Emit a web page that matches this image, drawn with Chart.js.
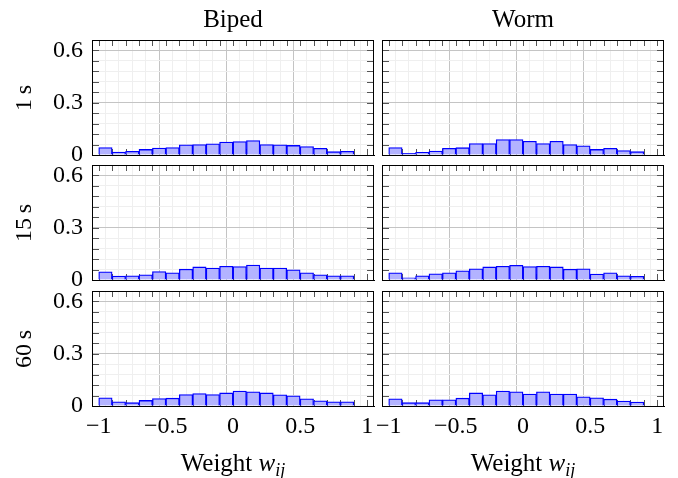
<!DOCTYPE html>
<html>
<head>
<meta charset="utf-8">
<script src="https://cdn.jsdelivr.net/npm/chart.js@4.4.1/dist/chart.umd.min.js"></script>
<style>
  html, body { margin: 0; padding: 0; background: #fff; }
  #wrap { position: relative; width: 678px; height: 478px; overflow: hidden; font-family: 'Liberation Serif', serif; color: #000; }
  #wrap canvas { position: absolute; }
  .lbl { position: absolute; font-size: 25px; line-height: 24px; white-space: nowrap; }
  .rot { transform: translate(-50%, -50%) rotate(-90deg); font-size: 24px; }
  .ctr { transform: translateX(-50%); }
  sub { font-size: 18px; vertical-align: -5px; line-height: 0; }
</style>
</head>
<body>
<div id="wrap"></div>
<script>
// bins of width 0.1 from -1 to 0.9, given by their centres
const binCenters = [-0.95, -0.85, -0.75, -0.65, -0.55, -0.45, -0.35, -0.25, -0.15, -0.05,
                    0.05, 0.15, 0.25, 0.35, 0.45, 0.55, 0.65, 0.75, 0.85];

const columns = ['Biped', 'Worm'];
const rows = ['1\u2009s', '15\u2009s', '60\u2009s'];

const biped1s  = [0.043, 0.017, 0.021, 0.032, 0.040, 0.043, 0.058, 0.060, 0.064, 0.074,
                  0.077, 0.083, 0.060, 0.058, 0.055, 0.049, 0.038, 0.019, 0.021];
const worm1s   = [0.043, 0.009, 0.015, 0.023, 0.038, 0.042, 0.066, 0.066, 0.089, 0.089,
                  0.079, 0.066, 0.079, 0.060, 0.053, 0.032, 0.038, 0.026, 0.019];
const biped15s = [0.047, 0.023, 0.024, 0.030, 0.049, 0.041, 0.062, 0.075, 0.069, 0.079,
                  0.077, 0.086, 0.069, 0.069, 0.058, 0.041, 0.030, 0.024, 0.024];
const worm15s  = [0.041, 0.013, 0.024, 0.036, 0.041, 0.053, 0.064, 0.075, 0.079, 0.084,
                  0.077, 0.079, 0.075, 0.062, 0.064, 0.034, 0.041, 0.024, 0.021];
const biped60s = [0.047, 0.024, 0.019, 0.032, 0.043, 0.045, 0.066, 0.071, 0.066, 0.075,
                  0.086, 0.081, 0.075, 0.064, 0.058, 0.041, 0.030, 0.024, 0.024];
const worm60s  = [0.041, 0.019, 0.019, 0.036, 0.036, 0.045, 0.075, 0.064, 0.086, 0.081,
                  0.069, 0.081, 0.069, 0.069, 0.053, 0.047, 0.039, 0.028, 0.023];

const xTickValues = [-1, -0.5, 0, 0.5, 1];
const xTickLabels = ['\u22121', '\u22120.5', '0', '0.5', '1'];
const yTickValues = [0, 0.3, 0.6];
const yTickLabels = ['0', '0.3', '0.6'];

const panelData = [
    [biped1s, worm1s],
    [biped15s, worm15s],
    [biped60s, worm60s]
];

Chart.defaults.font.family = "'Liberation Serif', 'Times New Roman', serif";
Chart.defaults.font.size = 24;
Chart.defaults.color = '#000';

const near = (a, b) => Math.abs(a - b) < 1e-6;
const labelFor = (v, values, labels) => {
    const i = values.findIndex(t => near(t, v));
    return i >= 0 ? labels[i] : '';
};

// layout of the 3x2 grid (plot areas)
const colLeft = [92, 382];
const plotW = 282;
const rowTop = [40, 165, 291];
const plotH = 115;

const framePlugin = {
    id: 'frame',
    beforeDatasetsDraw(chart) {
        const { ctx, chartArea: a, scales: { x, y } } = chart;
        ctx.save();
        ctx.strokeStyle = '#555';
        ctx.lineWidth = 1;
        ctx.beginPath();
        x.ticks.forEach(t => {
            const px = Math.round(x.getPixelForValue(t.value)) + 0.5;
            ctx.moveTo(px, a.top);
            ctx.lineTo(px, a.top + 6);
            ctx.moveTo(px, a.bottom);
            ctx.lineTo(px, a.bottom - 6);
        });
        y.ticks.forEach(t => {
            const py = Math.round(y.getPixelForValue(t.value)) + 0.5;
            ctx.moveTo(a.left, py);
            ctx.lineTo(a.left + 7, py);
            ctx.moveTo(a.right, py);
            ctx.lineTo(a.right - 7, py);
        });
        ctx.stroke();
        ctx.restore();
    },
    afterDatasetsDraw(chart) {
        const { ctx, chartArea: a } = chart;
        ctx.save();
        ctx.strokeStyle = '#000';
        ctx.lineWidth = 1;
        ctx.strokeRect(Math.round(a.left) + 0.5, Math.round(a.top) + 0.5,
                       Math.round(a.right - a.left) - 1, Math.round(a.bottom - a.top));
        ctx.restore();
    }
};

function gridColor(ctx, majors) {
    const v = ctx.tick ? ctx.tick.value : 0;
    return majors.some(m => near(m, v)) ? '#c4c4c4' : '#efefef';
}

function makePanel(row, col) {
    const isLeft = col === 0;
    const isBottom = row === rows.length - 1;
    const padTop = 20;
    const padBottom = isBottom ? 4 : 14;
    const xHeight = isBottom ? 36 : 0;
    const yWidth = isLeft ? 92 : 42;
    const canvasLeft = colLeft[col] - yWidth;
    const padRight = isLeft ? 18 : 14;
    const w = yWidth + plotW + padRight;
    const h = padTop + plotH + xHeight + padBottom;

    const canvas = document.createElement('canvas');
    canvas.width = w;
    canvas.height = h;
    canvas.style.left = canvasLeft + 'px';
    canvas.style.top = (rowTop[row] - padTop) + 'px';
    document.getElementById('wrap').appendChild(canvas);

    const values = panelData[row][col];

    new Chart(canvas.getContext('2d'), {
        type: 'bar',
        data: {
            datasets: [{
                data: values.map((v, i) => ({ x: binCenters[i], y: v })),
                backgroundColor: '#b3b3ff',
                borderColor: '#0000ff',
                borderWidth: 1.3,
                barPercentage: 1,
                categoryPercentage: 1
            }]
        },
        options: {
            responsive: false,
            animation: false,
            layout: { padding: { top: padTop, right: padRight, bottom: padBottom, left: 0 } },
            plugins: {
                legend: { display: false },
                tooltip: { enabled: false }
            },
            scales: {
                x: {
                    type: 'linear',
                    min: -1,
                    max: 1,
                    afterFit: s => { s.height = xHeight; s.paddingLeft = 0; s.paddingRight = 0; },
                    border: { display: true, color: '#000' },
                    grid: {
                        drawTicks: false,
                        color: ctx => gridColor(ctx, [-0.5, 0, 0.5])
                    },
                    ticks: {
                        display: isBottom,
                        stepSize: 0.1,
                        autoSkip: false,
                        maxRotation: 0,
                        padding: 6,
                        callback: v => labelFor(v, xTickValues, xTickLabels)
                    }
                },
                y: {
                    min: 0,
                    max: 0.66,
                    afterFit: s => { s.width = yWidth; s.paddingTop = 0; s.paddingBottom = 0; },
                    border: { display: true, color: '#000' },
                    grid: {
                        drawTicks: false,
                        color: ctx => gridColor(ctx, [0.3, 0.6])
                    },
                    ticks: {
                        display: isLeft,
                        stepSize: 0.06,
                        autoSkip: false,
                        padding: 9,
                        callback: v => labelFor(v, yTickValues, yTickLabels)
                    }
                }
            }
        },
        plugins: [framePlugin]
    });
}

for (let r = 0; r < rows.length; r++) {
    for (let c = 0; c < columns.length; c++) {
        makePanel(r, c);
    }
}

// text around the grid
const wrap = document.getElementById('wrap');
function addLabel(html, left, top, cls) {
    const d = document.createElement('div');
    d.className = 'lbl ' + cls;
    d.style.left = left + 'px';
    d.style.top = top + 'px';
    d.innerHTML = html;
    wrap.appendChild(d);
}

columns.forEach((name, c) => {
    const cx = colLeft[c] + plotW / 2;
    addLabel(name, cx, 7, 'ctr');
    addLabel('Weight <i>w</i><sub><i>ij</i></sub>', cx, 451, 'ctr');
});
rows.forEach((name, r) => {
    addLabel(name, 23, rowTop[r] + plotH / 2, 'rot');
});
</script>
</body>
</html>
